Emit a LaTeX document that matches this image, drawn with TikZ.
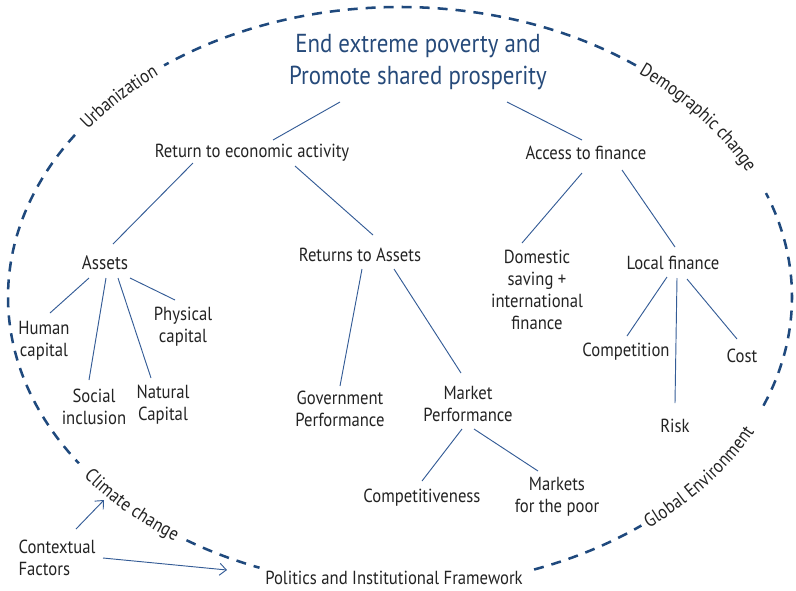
\documentclass[tikz,border=0pt]{standalone}
\usepackage{fontspec}
\setmainfont{PT Sans}[FakeStretch=0.88]
\usetikzlibrary{arrows.meta,calc,decorations.text}
\definecolor{goalblue}{RGB}{38,74,122}
\definecolor{ringblue}{RGB}{31,73,125}
\definecolor{linkblue}{RGB}{52,92,150}
\definecolor{txtgrey}{RGB}{35,35,35}
\newcommand{\lblfont}{\fontsize{14.2}{16.5}\selectfont}

\begin{document}
\begin{tikzpicture}[x=0.75pt, y=0.75pt,
    item/.style={align=center, text=txtgrey, font=\lblfont, inner sep=1pt},
    link/.style={draw=linkblue, line width=0.7pt},
    ring/.style={draw=ringblue, line width=1.9pt, dash pattern=on 7.5pt off 6pt},
    curved/.style={decorate, decoration={text along path, text align=center,
        raise=-4.5pt, text={|\color{txtgrey}\lblfont|#1}}},
    arr/.style={link, -{Straight Barb[length=5pt, width=9pt]}}
]
    \useasboundingbox (0,0) rectangle (796,-590);

    % dashed ring, broken where the labels sit
    \foreach \a/\b in {53/127, 146/215, 237/249, 290/308, 338/381}
        \draw[ring] (400,-297) ++(\a:392 and 290) arc[start angle=\a, end angle=\b, x radius=392, y radius=290];

    \path[curved=Urbanization] (400,-297) ++(157:392 and 290) arc[start angle=157, end angle=117, x radius=392, y radius=290];
    \path[curved=Demographic change] (400,-297) ++(62:392 and 290) arc[start angle=62, end angle=14, x radius=392, y radius=290];
    \path[curved=Global Environment] (400,-297) ++(-62:392 and 290) arc[start angle=-62, end angle=-14, x radius=392, y radius=290];
    \path[curved=Climate change] (400,-297) ++(205:392 and 290) arc[start angle=205, end angle=246, x radius=392, y radius=290];

    \node[item, font=\fontsize{19.5}{24}\selectfont, text=goalblue] (goal) at (418,-62) {End extreme poverty and\\Promote shared prosperity};

    \node[item] (ret) at (252,-153) {Return to economic activity};
    \node[item] (acc) at (586,-153) {Access to finance};

    \node[item, font=\fontsize{14.6}{18}\selectfont] (assets) at (105,-263) {Assets};
    \node[item] (rta) at (360,-255) {Returns to Assets};
    \node[item] (dom) at (537,-290) {Domestic\\saving +\\international\\finance};
    \node[item] (loc) at (673,-263) {Local finance};

    \node[item] (hum) at (44,-341) {Human\\capital};
    \node[item] (phy) at (183,-327) {Physical\\capital};
    \node[item] (soc) at (94,-407) {Social\\inclusion};
    \node[item] (nat) at (163,-405) {Natural\\Capital};

    \node[item] (gov) at (340,-409) {Government\\Performance};
    \node[item] (mkt) at (468,-404) {Market\\Performance};
    \node[item] (cmp) at (422,-498) {Competitiveness};
    \node[item] (mfp) at (557,-497) {Markets\\for the poor};

    \node[item] (comp) at (626,-352) {Competition};
    \node[item] (cost) at (742,-356) {Cost};
    \node[item] (risk) at (675,-426) {Risk};

    \node[item, align=left] (ctx) at (57,-558) {Contextual\\Factors};
    \node[item] (pol) at (394,-578) {Politics and Institutional Framework};
    \coordinate (clim) at (104,-500);

    \draw[link] ($(goal)+(-78,-40)$) -- ($(ret)+(21,13)$);
    \draw[link] ($(goal)+(89,-40)$) -- ($(acc)+(-4,13)$);
    \draw[link] ($(ret)+(-59,-10)$) -- ($(assets)+(8,19)$);
    \draw[link] ($(ret)+(43,-13)$) -- ($(rta)+(13,20)$);
    \draw[link] ($(acc)+(-4,-20)$) -- ($(dom)+(-15,47)$);
    \draw[link] ($(acc)+(36,-17)$) -- ($(loc)+(2,16)$);

    \draw[link] ($(assets)+(-16,-15)$) -- ($(hum)+(6,28)$);
    \draw[link] ($(assets)+(1,-15)$) -- ($(soc)+(-5,27)$);
    \draw[link] ($(assets)+(13,-15)$) -- ($(nat)+(-12,27)$);
    \draw[link] ($(assets)+(25,-15)$) -- ($(phy)+(-8,27)$);

    \draw[link] ($(rta)+(2,-14)$) -- ($(gov)+(0,23)$);
    \draw[link] ($(rta)+(34,-14)$) -- ($(mkt)+(-7,31)$);
    \draw[link] ($(mkt)+(-6,-25)$) -- ($(cmp)+(0,17)$);
    \draw[link] ($(mkt)+(6,-25)$) -- ($(mfp)+(-19,26)$);

    \draw[link] ($(loc)+(-6,-14)$) -- ($(comp)+(1,16)$);
    \draw[link] ($(loc)+(4,-15)$) -- ($(risk)+(0,23)$);
    \draw[link] ($(loc)+(14,-16)$) -- ($(cost)+(-5,17)$);

    \draw[arr] ($(ctx)+(19,29)$) -- (clim);
    \draw[arr] ($(ctx)+(46,0)$) -- ($(pol)+(-167,8)$);
\end{tikzpicture}
\end{document}
